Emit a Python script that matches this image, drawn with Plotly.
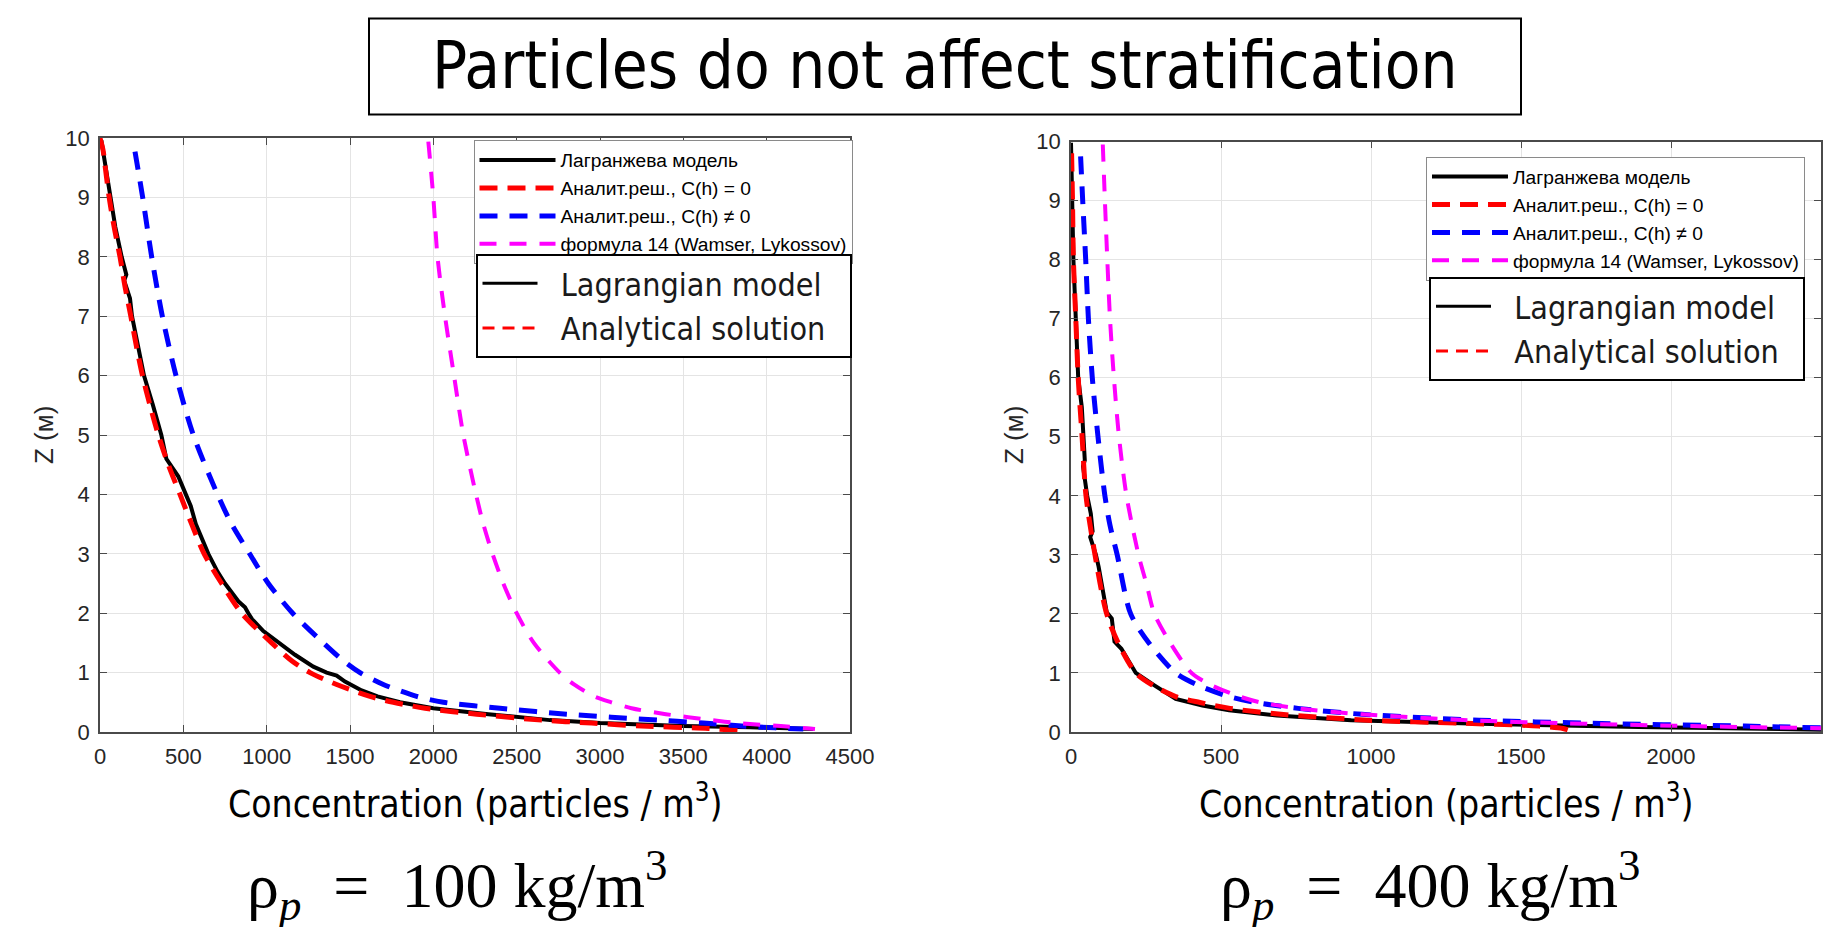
import plotly.graph_objects as go

# ---------------- data: rho_p = 100 kg/m3 (left panel) ----------------
z_lag_100 = [9.96, 9.5, 9.0, 8.5, 8.0, 7.7, 7.6, 7.3, 7.0, 6.5, 6.0, 5.5, 5.0, 4.6, 4.5, 4.3, 4.0, 3.8,
             3.5, 3.0, 2.7, 2.5, 2.2, 2.1, 2.0, 1.9, 1.7, 1.5, 1.3, 1.1, 1.0, 0.95, 0.85, 0.7, 0.6, 0.5,
             0.4, 0.3, 0.2, 0.15, 0.1, 0.08, 0.05]
c_lag_100 = [8, 35, 60, 92, 130, 158, 145, 180, 192, 226, 264, 318, 368, 398, 420, 470, 515, 545,
             575, 650, 705, 750, 830, 870, 890, 912, 980, 1075, 1170, 1280, 1360, 1420, 1470, 1570, 1665, 1800,
             2000, 2330, 2700, 3000, 3500, 3900, 4280]

z_an0_100 = [10.0, 9.8, 9.5, 9.0, 8.5, 8.0, 7.5, 7.0, 6.5, 6.0, 5.5, 5.0, 4.5, 4.0, 3.5, 3.0, 2.5, 2.0,
             1.5, 1.2, 1.0, 0.8, 0.6, 0.5, 0.4, 0.3, 0.2, 0.15, 0.1, 0.06, 0.02]
c_an0_100 = [0, 18, 32, 55, 85, 120, 150, 185, 218, 255, 300, 350, 410, 480, 550, 625, 730, 850,
             1030, 1150, 1260, 1420, 1620, 1760, 1950, 2260, 2650, 2950, 3250, 3650, 3850]

z_an1_100 = [9.77, 9.0, 8.0, 7.0, 6.0, 5.0, 4.0, 3.5, 3.0, 2.5, 2.0, 1.5, 1.2, 1.0, 0.8, 0.6, 0.5,
             0.4, 0.3, 0.2, 0.15, 0.1, 0.07, 0.05]
c_an1_100 = [210, 256, 310, 374, 456, 560, 705, 790, 898, 1010, 1156, 1340, 1460, 1560, 1700, 1900, 2060,
             2400, 2800, 3350, 3620, 3850, 4050, 4220]

z_f14_100 = [9.94, 9.0, 8.0, 7.0, 6.0, 5.0, 4.0, 3.5, 3.0, 2.5, 2.0, 1.5, 1.0, 0.8, 0.6, 0.5, 0.4,
             0.3, 0.2, 0.15, 0.1, 0.05]
c_f14_100 = [1970, 2000, 2025, 2070, 2124, 2180, 2256, 2300, 2355, 2420, 2500, 2603, 2758, 2844, 2965, 3068, 3189,
             3395, 3671, 3830, 4085, 4290]

# ---------------- data: rho_p = 400 kg/m3 (right panel) ----------------
z_lag_400 = [9.98, 9.0, 8.0, 7.0, 6.0, 5.5, 5.0, 4.6, 4.5, 4.0, 3.7, 3.4, 3.3, 3.0, 2.8, 2.55, 2.03, 1.92,
             1.53, 1.41, 1.13, 1.0, 0.79, 0.56, 0.45, 0.37, 0.28, 0.2, 0.14, 0.085, 0.04]
c_lag_400 = [0, 3, 8, 16, 24, 36, 41, 46, 40, 54, 66, 72, 64, 83, 92, 101, 119, 136,
             145, 168, 199, 216, 278, 349, 438, 527, 686, 934, 1360, 1892, 2500]

z_an0_400 = [9.8, 9.0, 8.0, 7.0, 6.0, 5.0, 4.0, 3.0, 2.0, 1.5, 1.0, 0.8, 0.6, 0.5, 0.4, 0.3, 0.2,
             0.15, 0.1, 0.06, 0.02]
c_an0_400 = [2, 5, 8, 16, 24, 37, 50, 80, 119, 158, 216, 270, 349, 430, 530, 700, 990,
             1300, 1560, 1640, 1665]

z_an1_400 = [9.75, 9.0, 8.0, 7.0, 6.0, 5.0, 4.0, 3.5, 3.0, 2.0, 1.5, 1.0, 0.8, 0.6, 0.5, 0.4, 0.3,
             0.2, 0.15, 0.1, 0.07]
c_an1_400 = [32, 39, 49, 58, 71, 90, 113, 130, 154, 199, 261, 349, 420, 527, 615, 757, 970,
             1360, 1714, 2246, 2503]

z_f14_400 = [9.95, 9.0, 8.0, 7.0, 6.0, 5.0, 4.0, 3.0, 2.5, 2.0, 1.5, 1.0, 0.8, 0.6, 0.5, 0.4, 0.3,
             0.2, 0.15, 0.1, 0.06]
c_f14_400 = [106, 113, 121, 130, 143, 160, 185, 225, 252, 278, 332, 402, 465, 562, 633, 757, 970,
             1324, 1626, 2069, 2550]

# ---------------- labels ----------------
names_ru = ["Лагранжева модель", "Аналит.реш., C(h) = 0", "Аналит.реш., C(h) ≠ 0",
            "формула 14 (Wamser, Lykossov)"]
names_en = ["Lagrangian model", "Analytical solution"]
title_text = "Particles do not affect stratification"
xlabel = "Concentration (particles / m<sup>3</sup>)"
ylabel = "Z (м)"
NB = "\u00a0"
sub_left = "ρ<sub><i>p</i></sub>" + NB * 2 + "=" + NB * 2 + "100" + NB + "kg/m<sup>3</sup>"
sub_right = "ρ<sub><i>p</i></sub>" + NB * 2 + "=" + NB * 2 + "400" + NB + "kg/m<sup>3</sup>"

COND = "Liberation Sans Narrow, DejaVu Sans Condensed, Arial Narrow, sans-serif"
ARIAL = "Liberation Sans, Arial, sans-serif"
SERIF = "Liberation Serif, DejaVu Serif, serif"

# page has an 8px body margin at top-left; figure fills the rest of the window
OFF = 8
W, H = 1833 - OFF, 927 - OFF


def fx(px):
    return (px - OFF) / W


def fy(py):
    return 1 - (py - OFF) / H


styles = [
    dict(color="black", width=4, dash="solid"),
    dict(color="#ff0000", width=5, dash="18px,10px"),
    dict(color="#0000ff", width=5, dash="18px,12px"),
    dict(color="#ff00ff", width=4, dash="17px,13px"),
]
shapes_line = ["linear", "spline", "spline", "spline"]

fig = go.Figure()

panels = [
    ("x", "y", "legend", "legend2",
     [(c_lag_100, z_lag_100), (c_an0_100, z_an0_100), (c_an1_100, z_an1_100), (c_f14_100, z_f14_100)]),
    ("x2", "y2", "legend3", "legend4",
     [(c_lag_400, z_lag_400), (c_an0_400, z_an0_400), (c_an1_400, z_an1_400), (c_f14_400, z_f14_400)]),
]

for xa, ya, leg_ru, leg_en, series in panels:
    for i, (cx, zy) in enumerate(series):
        ln = dict(styles[i])
        ln["shape"] = shapes_line[i]
        if shapes_line[i] == "spline":
            ln["smoothing"] = 0.8
        fig.add_trace(go.Scatter(
            x=cx, y=zy, mode="lines", name=names_ru[i], xaxis=xa, yaxis=ya,
            legend=leg_ru, line=ln, hoverinfo="skip"))
    # English legend entries (no data)
    fig.add_trace(go.Scatter(x=[None], y=[None], mode="lines", name=NB * 2 + names_en[0] + NB * 2,
                             xaxis=xa, yaxis=ya, legend=leg_en, line=dict(color="black", width=3)))
    fig.add_trace(go.Scatter(x=[None], y=[None], mode="lines", name=NB * 2 + names_en[1] + NB * 2,
                             xaxis=xa, yaxis=ya, legend=leg_en,
                             line=dict(color="#ff0000", width=3, dash="12px,8px")))

AXC = "#4a4a4a"
common_ax = dict(showgrid=True, gridcolor="#e4e4e4", gridwidth=1, ticks="inside", ticklen=7,
                 tickcolor=AXC, showline=True, linecolor=AXC, linewidth=1.5, mirror="ticks",
                 zeroline=False, tickfont=dict(family=ARIAL, size=22, color="#262626"),
                 ticklabelstandoff=4, automargin=False, fixedrange=True)

leg_ru_common = dict(xanchor="right", yanchor="top", bgcolor="white", bordercolor="#8a8a8a",
                     borderwidth=1, itemwidth=76, font=dict(family=ARIAL, size=19.2, color="black"))
leg_en_common = dict(xanchor="right", yanchor="top", bgcolor="white", bordercolor="black",
                     borderwidth=2, itemwidth=55, font=dict(family=COND, size=32, color="#1a1a1a"))

fig.update_layout(
    width=W, height=H, margin=dict(l=0, r=0, t=0, b=0),
    paper_bgcolor="white", plot_bgcolor="white", showlegend=True,
    xaxis=dict(domain=[fx(100), fx(850)], range=[0, 4500], dtick=500, anchor="y", **common_ax),
    yaxis=dict(domain=[fy(732), fy(138)], range=[0, 10], dtick=1, anchor="x", **common_ax),
    xaxis2=dict(domain=[fx(1071), fx(1821)], range=[0, 2500], dtick=500, anchor="y2", **common_ax),
    yaxis2=dict(domain=[fy(732), fy(141.5)], range=[0, 10], dtick=1, anchor="x2", **common_ax),
    legend=dict(x=fx(852.5), y=fy(140), **leg_ru_common),
    legend2=dict(x=fx(851.5), y=fy(254), **leg_en_common),
    legend3=dict(x=fx(1805), y=fy(156.5), **leg_ru_common),
    legend4=dict(x=fx(1805), y=fy(277), **leg_en_common),
)

# Title box
fig.add_shape(type="rect", xref="paper", yref="paper", x0=fx(369), x1=fx(1521),
              y0=fy(114.5), y1=fy(18.5), line=dict(color="black", width=2), fillcolor="white",
              layer="below")
fig.add_annotation(text=title_text, xref="paper", yref="paper", x=fx(945), y=fy(66),
                   xanchor="center", yanchor="middle", showarrow=False,
                   font=dict(family=COND, size=65, color="black"))

# Axis titles
for xc in [(100 + 850) / 2, (1071 + 1821) / 2]:
    fig.add_annotation(text=xlabel, xref="paper", yref="paper", x=fx(xc), y=fy(801),
                       xanchor="center", yanchor="middle", showarrow=False,
                       font=dict(family=COND, size=37, color="black"))
for xc, yc in [(44, 435), (1014, 435)]:
    fig.add_annotation(text=ylabel, xref="paper", yref="paper", x=fx(xc), y=fy(yc),
                       xanchor="center", yanchor="middle", showarrow=False, textangle=-90,
                       font=dict(family=ARIAL, size=26, color="#262626"))

# density labels
for xc, txt in [(457, sub_left), (1430, sub_right)]:
    fig.add_annotation(text=txt, xref="paper", yref="paper", x=fx(xc), y=fy(885),
                       xanchor="center", yanchor="middle", showarrow=False,
                       font=dict(family=SERIF, size=64, color="black"))

fig.write_html("out.html")
